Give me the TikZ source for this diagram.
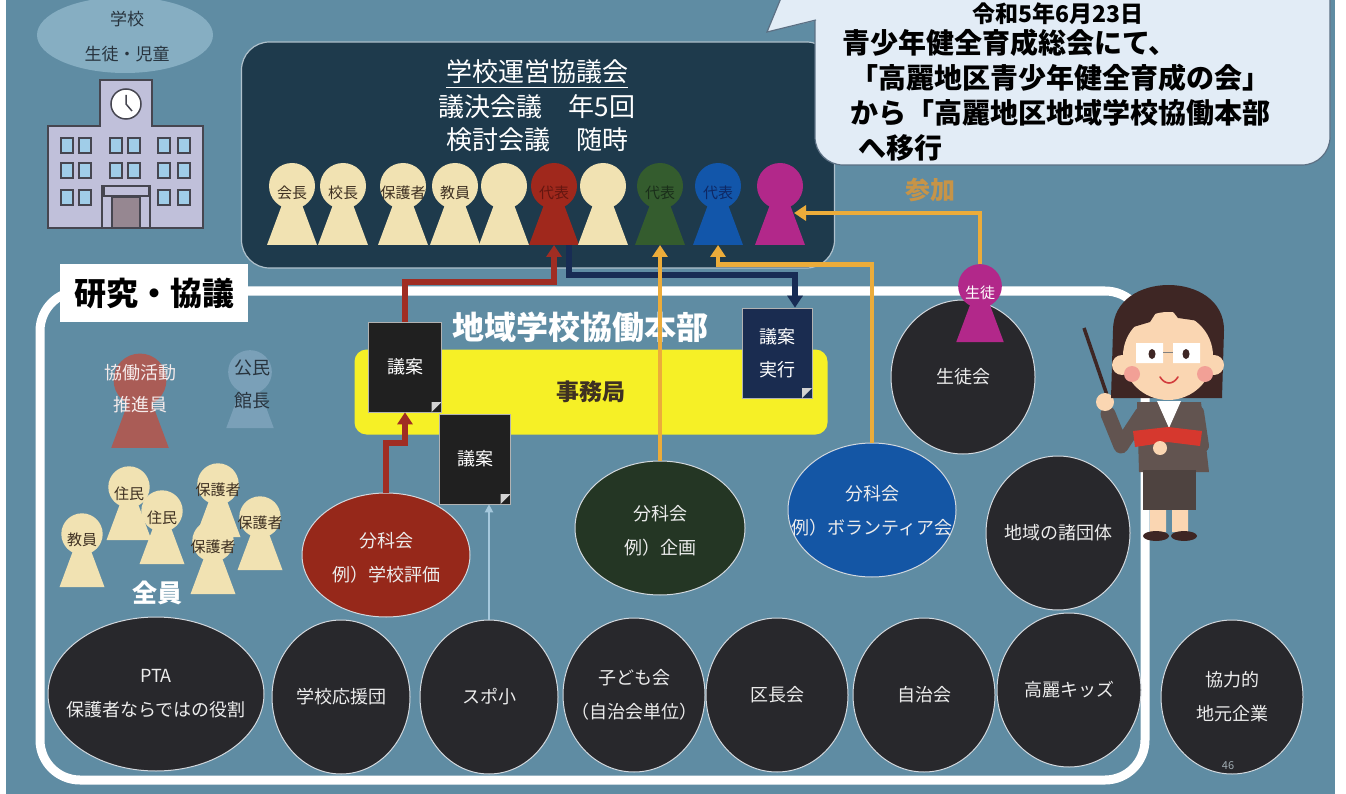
\documentclass[tikz,border=0pt]{standalone}
\usepackage{fontspec}
\setmainfont{Noto Sans CJK JP}
\usepackage{xcolor}
\usepackage{tikz}
\usetikzlibrary{shapes.geometric,arrows.meta}

\definecolor{backdrop}{RGB}{95,140,163}
\definecolor{councilbg}{RGB}{30,58,76}
\definecolor{cream}{RGB}{241,226,178}
\definecolor{repred}{RGB}{160,40,28}
\definecolor{repgreen}{RGB}{52,92,46}
\definecolor{repblue}{RGB}{18,86,170}
\definecolor{pupil}{RGB}{178,40,138}
\definecolor{fadedred}{RGB}{170,92,86}
\definecolor{fadedblue}{RGB}{122,160,184}
\definecolor{orb}{RGB}{40,40,44}
\definecolor{rim}{RGB}{210,216,222}
\definecolor{chalk}{RGB}{236,236,236}
\definecolor{secred}{RGB}{150,40,26}
\definecolor{secgreen}{RGB}{36,54,36}
\definecolor{secblue}{RGB}{20,86,165}
\definecolor{office}{RGB}{246,240,38}
\definecolor{paper}{RGB}{32,32,32}
\definecolor{navypaper}{RGB}{26,44,80}
\definecolor{flowred}{RGB}{160,45,35}
\definecolor{flownavy}{RGB}{24,44,84}
\definecolor{floworange}{RGB}{236,172,58}
\definecolor{faint}{RGB}{165,200,220}
\definecolor{joinink}{RGB}{198,148,72}
\definecolor{bubble}{RGB}{226,236,246}
\definecolor{bubbleedge}{RGB}{92,112,132}
\definecolor{schoolsky}{RGB}{134,174,194}
\definecolor{schoolink}{RGB}{40,52,62}
\definecolor{building}{RGB}{192,192,218}
\definecolor{outline}{RGB}{70,70,80}
\definecolor{glass}{RGB}{160,205,232}
\definecolor{doorway}{RGB}{150,135,145}
\definecolor{inkdark}{RGB}{62,48,34}
\definecolor{redink}{RGB}{100,22,16}
\definecolor{greenink}{RGB}{26,46,26}
\definecolor{blueink}{RGB}{14,40,100}
\definecolor{hair}{RGB}{62,38,36}
\definecolor{skin}{RGB}{250,214,178}
\definecolor{suit}{RGB}{98,84,80}
\definecolor{bookred}{RGB}{214,56,46}
\definecolor{blush}{RGB}{242,160,150}
\definecolor{mouthred}{RGB}{210,60,60}
\definecolor{pagegray}{RGB}{160,172,178}

\newcommand{\fsz}[1]{\fontsize{#1}{#1}\selectfont}

\begin{document}
\begin{tikzpicture}[x=1pt, y=-1pt,
	every node/.style={inner sep=0pt, align=center},
	orbit/.style={ellipse, fill=orb, draw=rim, line width=1pt, minimum height=154},
	sector/.style={ellipse, draw=rim, line width=1pt},
	orbittext/.style={text=chalk, font=\fontsize{18}{34}\selectfont},
	draft/.style={fill=#1, draw=gray!60, line width=0.6pt, minimum width=71, minimum height=90, text=white, font=\fontsize{18}{33}\selectfont,
		path picture={\fill[white!80!paper] ([xshift=-10pt]path picture bounding box.south east) -- ([xshift=-10pt,yshift=10pt]path picture bounding box.south east) -- ([yshift=10pt]path picture bounding box.south east) -- cycle;}},
	flow/.style={line width=#1, -{Triangle[width=15pt,length=12pt]}},
	bubbletext/.style={font=\bfseries\fsz{28}, anchor=west},
	pics/member/.style args={#1/#2/#3}{code={
		\fill[#1] (0,0) circle (23) (-9,16) -- (9,16) -- (25,59) -- (-25,59) -- cycle;
		\node[font=\fsz{15}, text=#3] (-label) at (0,7) {#2};
		\coordinate (-top) at (0,-23);
		\coordinate (-foot) at (0,59);}}]
	\useasboundingbox (0,0) rectangle (1346,794);
	\clip (0,0) rectangle (1346,794);
	\fill[white] (0,0) rectangle (1346,794);
	\fill[backdrop] (6,0) rectangle (1335,794);

	\node[ellipse, fill=schoolsky, minimum width=176, minimum height=76] (school) at (125,35) {};
	\node[font=\fontsize{17}{35}\selectfont, text=schoolink] (schooltext) at (127,37) {学校\\生徒・児童};
	\filldraw[fill=building, draw=outline, line width=1.6pt] (48,228) -- (48,126) -- (100,126) -- (100,80) -- (152,80) -- (152,126) -- (203,126) -- (203,228) -- cycle;
	\filldraw[fill=white, draw=outline, line width=1.5pt] (126,104) circle (15);
	\draw[outline, line width=1.5pt] (126,95) -- (126,104) -- (132,111);
	\foreach \wy in {138,163,190}
		\foreach \wx in {61,79,110,128,158,178}
			\filldraw[fill=glass, draw=outline, line width=1.2pt] (\wx,\wy) rectangle ++(12,15);
	\filldraw[fill=building, draw=outline, line width=1.2pt] (102,186) rectangle (150,228);
	\filldraw[fill=doorway, draw=outline, line width=1.2pt] (112,197) rectangle (140,228);
	\filldraw[fill=building, draw=outline, line width=1.2pt] (104,186) rectangle (149,196);

	\draw[white, line width=9pt, rounded corners=40pt] (40,291) rectangle (1145,780);
	\node[fill=white, minimum width=188, minimum height=58, font=\bfseries\fsz{32}] (research) at (154,293) {研究・協議};

	\node[fill=councilbg, draw=rim!70!backdrop, line width=1.2pt, rounded corners=28pt, minimum width=593, minimum height=226] (council) at (538,155) {};
	\node[font=\fsz{26}, text=white] (counciltitle) at (537,72) {学校運営協議会};
	\draw[white, line width=1.3pt] ([yshift=-3pt]counciltitle.south west) -- ([yshift=-3pt]counciltitle.south east);
	\node[font=\fsz{26}, text=white] (vote) at (537,107) {議決会議　年5回};
	\node[font=\fsz{26}, text=white] (review) at (537,140) {検討会議　随時};

	\filldraw[fill=bubble, draw=bubbleedge, line width=1.2pt, rounded corners=28pt] (815,-40) rectangle (1330,165);
	\fill[bubble] (781,-2) -- (767,32) -- (818,20) -- (818,-2) -- cycle;
	\draw[bubbleedge, line width=1.2pt] (781,-2) -- (767,32) -- (816,20);
	\node[font=\bfseries\fsz{23}] (date) at (1058,14) {令和5年6月23日};
	\node[bubbletext] (lineA) at (842,43) {青少年健全育成総会にて、};
	\node[bubbletext] (lineB) at (850,78) {「高麗地区青少年健全育成の会」};
	\node[bubbletext] (lineC) at (850,113) {から「高麗地区地域学校協働本部};
	\node[bubbletext] (lineD) at (858,148) {へ移行};
	\node[font=\bfseries\fsz{25}, text=joinink] (join) at (930,190) {参加};

	\node[fill=office, rounded corners=12pt, minimum width=473, minimum height=85, font=\bfseries\fsz{23}, text=inkdark] (office) at (591,392) {事務局};
	\node[font=\bfseries\fsz{32}, text=white] (hq) at (580,327) {地域学校協働本部};

	\node[orbit, minimum width=144] (studentcouncil) at (963,377) {};
	\node[orbittext] (studentcounciltext) at (963,377) {生徒会};
	\node[orbit, minimum width=144] (groups) at (1058,533) {};
	\node[orbittext] (groupstext) at (1058,533) {地域の諸団体};
	\foreach \nm/\cx/\cy/\rx/\txt in {pta/156/694/108/{PTA\\保護者ならではの役割}, cheer/341/697/69/学校応援団, sports/489/697/69/スポ小, kids/634/695/71/{子ども会\\（自治会単位）}, chiefs/777/695/71/区長会, selfgov/924/695/71/自治会, komakids/1069/690/72/高麗キッズ, firms/1232/697/71/{協力的\\地元企業}}
		\node[orbit, minimum width=2*\rx] (\nm) at (\cx,\cy) {} node[orbittext] (\nm-text) at (\cx,\cy) {\txt};

	\node[sector, fill=secred, minimum width=168, minimum height=124] (evalsec) at (386,555) {};
	\node[orbittext] (evalsectext) at (386,558) {分科会\\例）学校評価};
	\node[sector, fill=secgreen, minimum width=170, minimum height=134] (plansec) at (660,528) {};
	\node[orbittext] (plansectext) at (660,531) {分科会\\例）企画};
	\node[sector, fill=secblue, minimum width=168, minimum height=134] (volsec) at (872,510) {};
	\node[orbittext] (volsectext) at (872,511) {分科会\\例）ボランティア会};

	\node[draft=paper, minimum width=73] (draftA) at (405,367) {議案};
	\node[draft=paper] (draftB) at (475,459) {議案};
	\node[draft=navypaper, minimum width=70] (exec) at (777,353) {議案\\実行};

	\foreach \nm/\xx/\col/\txt/\tc in {chair/292/cream/会長/inkdark, principal/343/cream/校長/inkdark, guardian/403/cream/保護者/inkdark, teacher/455/cream/教員/inkdark, seatA/504/cream//inkdark, redrep/554/repred/代表/redink, seatB/603/cream//inkdark, greenrep/660/repgreen/代表/greenink, bluerep/718/repblue/代表/blueink, pinkrep/780/pupil//white}
		\pic (\nm) at (\xx,186) {member=\col/\txt/\tc};
	\pic[scale=0.95] (student) at (980,286) {member=pupil/生徒/white};

	\draw[flow=6pt, flowred] (evalsec.north) -- ++(0,-50) -| (draftA.south);
	\draw[flow=6pt, flowred] (draftA.north) -- ++(0,-40) -| (redrep-foot);
	\draw[flow=5.5pt, flownavy] ([xshift=15pt]redrep-foot) -- ++(0,30) -| ([xshift=18pt]exec.north);
	\draw[flow=4.5pt, floworange] (plansec.north) -- (greenrep-foot);
	\draw[flow=4.5pt, floworange] (volsec.north) -- ++(0,-178) -| (bluerep-foot);
	\draw[flow=4.5pt, floworange] (student-top) |- ([shift={(14,-32)}]pinkrep-foot);
	\draw[line width=2pt, faint, -{Triangle[width=8pt,length=8pt]}] (sports.north) -- (sports.north |- draftB.south);

	\pic[scale=1.15] (promoter) at (140,380) {member=fadedred//white};
	\node[font=\fontsize{18}{32}\selectfont, text=white!88!fadedred] (promotertext) at (140,389) {協働活動\\推進員};
	\pic[scale=0.95] (curator) at (250,372) {member=fadedblue//inkdark};
	\node[font=\fontsize{18}{33}\selectfont, text=schoolink] (curatortext) at (252,384) {公民\\館長};
	\foreach \nm/\xx/\yy/\txt in {guardianA/218/484/保護者, residentA/129/487/住民, staff/82/534/教員, residentB/162/511/住民, guardianC/260/517/保護者, guardianB/213/541/保護者}
		\pic[scale=0.9] (\nm) at (\xx,\yy) {member=cream/\txt/inkdark};
	\node[font=\bfseries\fsz{25}, text=white] (everyone) at (157,593) {全員};

	\draw[hair, line width=3.5pt] (1084,328) -- (1108,398);
	\fill[suit] (1137,402) -- (1201,402) -- (1209,472) -- (1139,472) -- cycle;
	\draw[suit, line width=15pt, line cap=round, line join=round] (1142,414) -- (1121,446) -- (1108,414);
	\fill[skin] (1105,402) circle (9);
	\fill[white] (1157,401) -- (1181,401) -- (1169,428) -- cycle;
	\fill[suit!80!black] (1143,470) rectangle (1196,510);
	\fill[skin] (1150,510) rectangle (1166,532) (1172,510) rectangle (1188,532);
	\fill[hair] (1156,536) ellipse (13 and 5) (1184,536) ellipse (13 and 5);
	\draw[suit, line width=12pt, line cap=round] (1198,412) -- (1203,446);
	\fill[bookred] (1133,431) -- (1168,427) -- (1202,431) -- (1200,446) -- (1168,442) -- (1135,447) -- cycle;
	\fill[skin] (1160,448) circle (7);
	\fill[hair] (1111,398) -- (1113,330) .. controls (1113,270) and (1224,270) .. (1224,330) -- (1222,398) -- cycle;
	\fill[skin] (1122,365) circle (10) (1214,365) circle (10);
	\fill[skin] (1168,356) ellipse (45 and 44);
	\fill[hair] (1119,350) .. controls (1108,285) and (1230,285) .. (1217,350) -- (1206,322) -- (1178,318) -- (1164,300) -- (1150,322) -- (1130,328) -- cycle;
	\fill[white] (1136,343) rectangle (1163,363) (1173,343) rectangle (1200,363);
	\draw[gray, line width=1pt] (1163,352) -- (1173,352);
	\fill[hair] (1152,354) ellipse (3.5 and 5) (1186,354) ellipse (3.5 and 5);
	\fill[blush] (1132,374) circle (8) (1205,374) circle (8);
	\draw[mouthred, line width=1.6pt, line cap=round] (1160,377) .. controls (1165,385) and (1173,385) .. (1178,377);

	\node[font=\fsz{11}, text=pagegray] (pagenum) at (1228,766) {46};
\end{tikzpicture}
\end{document}
